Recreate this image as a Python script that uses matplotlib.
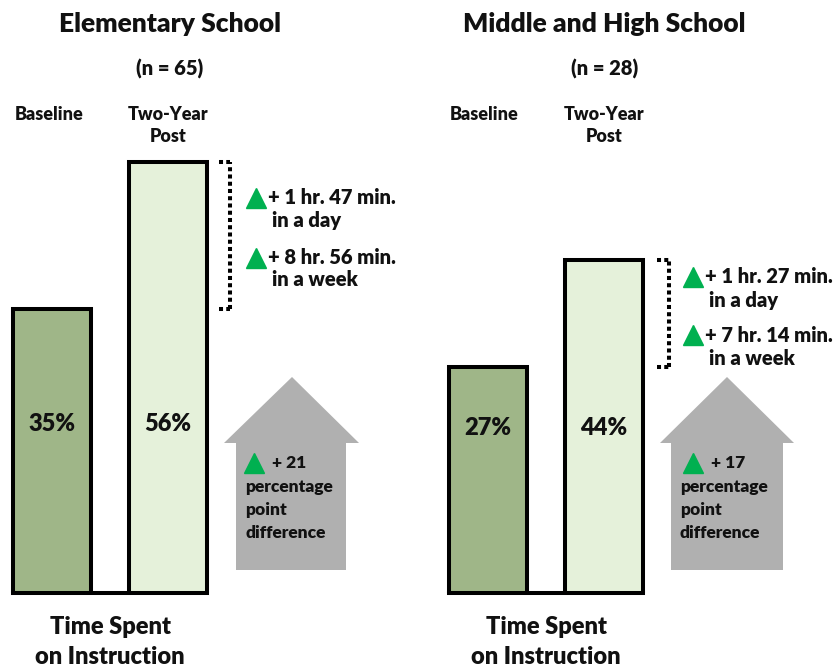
import matplotlib
matplotlib.use("Agg")
import matplotlib.pyplot as plt
from matplotlib.patches import Polygon
from matplotlib.lines import Line2D
import matplotlib.transforms as mtransforms

# ---------------- data ----------------
panel_titles = ["Elementary School", "Middle and High School"]
sample_sizes = ["(n = 65)", "(n = 28)"]
categories = ["Baseline", "Two-Year\nPost"]
elem_values = [35, 56]
mhs_values = [27, 44]
day_gain = ["+ 1 hr. 47 min.", "+ 1 hr. 27 min."]
week_gain = ["+ 8 hr. 56 min.", "+ 7 hr. 14 min."]
pp_gain = ["+ 21", "+ 17"]
xlabel_lines = ["Time Spent", "on Instruction"]

# ---------------- style ----------------
W, H = 836, 667
DPI = 100
FONT = "Lato"
WEIGHT = "heavy"
plt.rcParams["font.family"] = [FONT, "DejaVu Sans"]

bar_colors = ["#9FB688", "#E5F1DA"]
edge_lw = 2.9
green = "#00B050"
house_gray = "#B0B0B0"
txt_color = "#111111"

fig = plt.figure(figsize=(W / DPI, H / DPI), dpi=DPI)


def fp(x, y):
    return x / W, 1 - y / H


def ftext(x, y, s, size, ha="center", va="center"):
    fig.text(*fp(x, y), s, fontsize=size, fontweight=WEIGHT, ha=ha, va=va,
             color=txt_color)


def tri(x, y, ms=15):
    fig.add_artist(Line2D([fp(x, y)[0]], [fp(x, y)[1]], marker="^", ms=ms,
                          color=green, mec=green, ls="none",
                          transform=fig.transFigure))


# panel layout params (pixels)
panels = [
    dict(values=elem_values, left_px=0, center0=52, floor=5.57, ppu=7.0,
         title_x=170, n_x=170, base_x=49, post_x=168, xl_x=110, pct_y=424,
         brk_x=230, brk_tick=219,
         ann_tri=256, ann_x=268, ann_x2=272, ann_y=[198, 220, 258, 280],
         house=dict(apex=292, sl=224, sr=359, bl=236, br=346),
         pp_tri=254, pp_x=272, pp_txt=245),
    dict(values=mhs_values, left_px=418, center0=487.5, floor=8.9, ppu=6.29,
         title_x=604, n_x=605, base_x=484.5, post_x=604, xl_x=546, pct_y=428,
         brk_x=669, brk_tick=657,
         ann_tri=692.5, ann_x=705, ann_x2=709, ann_y=[277, 300, 335, 358],
         house=dict(apex=727, sl=660, sr=794, bl=671, br=783),
         pp_tri=692.5, pp_x=711, pp_txt=680),
]

unit_px = 116.0
bottom_px = 593.0
bar_w = 78 / unit_px

for i, p in enumerate(panels):
    ax = fig.add_axes([p["left_px"] / W, (H - bottom_px) / H, 418 / W, bottom_px / H])
    ax.patch.set_alpha(0)
    x0 = -(p["center0"] - p["left_px"]) / unit_px
    ax.set_xlim(x0, x0 + 418 / unit_px)
    ax.set_ylim(-p["floor"], -p["floor"] + bottom_px / p["ppu"])
    vals = p["values"]
    xs = list(range(len(vals)))
    heights = [v + p["floor"] for v in vals]
    ax.bar(xs, heights, bottom=-p["floor"], width=bar_w, color=bar_colors,
           edgecolor="black", linewidth=edge_lw, zorder=3)
    for s in ["top", "left", "right"]:
        ax.spines[s].set_visible(False)
    ax.spines["bottom"].set_position(("data", -p["floor"]))
    ax.spines["bottom"].set_bounds(-bar_w / 2, 1 + bar_w / 2)
    ax.spines["bottom"].set_linewidth(edge_lw)
    ax.set_xticks([])
    ax.set_yticks([])

    # percentage labels
    trans = mtransforms.blended_transform_factory(ax.transData, fig.transFigure)
    for xi, v in zip(xs, vals):
        ax.text(xi, 1 - p["pct_y"] / H, f"{v}%", transform=trans, ha="center",
                va="center", fontsize=17, fontweight=WEIGHT, color=txt_color,
                zorder=5)

    # dotted bracket between bar tops
    bx = (p["brk_x"] - p["center0"]) / unit_px
    bt = (p["brk_tick"] - p["center0"]) / unit_px
    dots = dict(color="black", lw=2.9, ls=(0, (1.0, 0.8)), dash_capstyle="butt",
                solid_capstyle="butt")
    ax.plot([bx, bx], [vals[0], vals[1]], **dots)
    ax.plot([bt, bx], [vals[1], vals[1]], **dots)
    ax.plot([bt, bx], [vals[0], vals[0]], **dots)

    # titles & labels
    ftext(p["title_x"], 24, panel_titles[i], 19)
    ftext(p["n_x"], 69, sample_sizes[i], 14.5)
    ftext(p["base_x"], 114, categories[0], 13)
    cat2 = categories[1].split("\n")
    ftext(p["post_x"], 114, cat2[0], 13)
    ftext(p["post_x"], 137, cat2[1], 13)
    ftext(p["xl_x"], 627, xlabel_lines[0], 17)
    ftext(p["xl_x"], 657, xlabel_lines[1], 17)

    # time gain annotations
    ay = p["ann_y"]
    tri(p["ann_tri"], ay[0])
    ftext(p["ann_x"], ay[0], day_gain[i], 14.5, ha="left")
    ftext(p["ann_x2"], ay[1], "in a day", 14.5, ha="left")
    tri(p["ann_tri"], ay[2])
    ftext(p["ann_x"], ay[2], week_gain[i], 14.5, ha="left")
    ftext(p["ann_x2"], ay[3], "in a week", 14.5, ha="left")

    # house-shaped arrow
    h = p["house"]
    pts = [fp(h["apex"], 377), fp(h["sr"], 443), fp(h["br"], 443), fp(h["br"], 570),
           fp(h["bl"], 570), fp(h["bl"], 443), fp(h["sl"], 443)]
    fig.add_artist(Polygon(pts, closed=True, facecolor=house_gray, edgecolor="none",
                           transform=fig.transFigure, zorder=1))
    tri(p["pp_tri"], 463)
    ftext(p["pp_x"], 463, pp_gain[i], 12.5, ha="left")
    ftext(p["pp_txt"], 487, "percentage", 12.5, ha="left")
    ftext(p["pp_txt"], 510, "point", 12.5, ha="left")
    ftext(p["pp_txt"], 533, "difference", 12.5, ha="left")

fig.savefig("out.png", dpi=DPI)
